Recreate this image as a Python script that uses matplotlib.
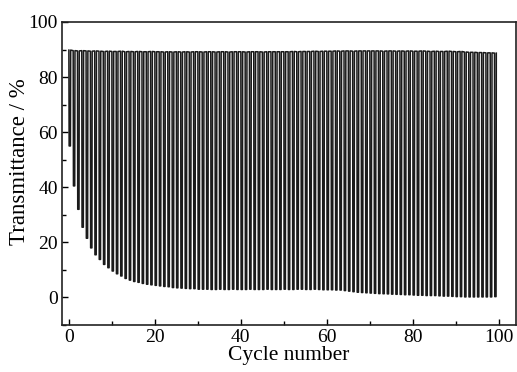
import matplotlib
matplotlib.use("Agg")
import matplotlib.pyplot as plt
from matplotlib.ticker import MultipleLocator
import numpy as np

# per-cycle minimum transmittance (%), cycles 0..99
cycle_min = [55.0, 40.5, 32.0, 25.5, 21.5, 18.0, 15.5, 13.8, 12.0, 10.8,
             9.6, 8.6, 7.8, 6.9, 6.3, 5.8, 5.5, 5.1, 4.8, 4.6,
             4.4, 4.2, 4.0, 3.9, 3.6, 3.5, 3.4, 3.3, 3.2, 3.2,
             3.0, 3.0, 3.0, 2.9, 2.9, 3.0, 2.9, 2.9, 3.0, 2.9,
             2.9, 2.9, 3.0, 2.9, 2.9, 2.9, 3.0, 2.9, 2.9, 2.9,
             3.0, 2.9, 2.9, 3.0, 3.0, 2.9, 2.9, 3.0, 2.9, 2.8,
             2.8, 2.8, 2.7, 2.7, 2.5, 2.3, 2.1, 1.9, 1.8, 1.7,
             1.6, 1.5, 1.4, 1.35, 1.3, 1.2, 1.15, 1.1, 1.0, 1.0,
             0.9, 0.8, 0.8, 0.7, 0.7, 0.7, 0.6, 0.5, 0.5, 0.4,
             0.3, 0.3, 0.2, 0.2, 0.2, 0.2, 0.2, 0.2, 0.2, 0.3]

# per-cycle maximum transmittance (%)
cycle_max = [89.8, 89.6, 89.5, 89.6, 89.5, 89.4, 89.5, 89.4, 89.3, 89.4,
             89.3, 89.3, 89.4, 89.2, 89.3, 89.2, 89.3, 89.2, 89.2, 89.3,
             89.2, 89.2, 89.1, 89.2, 89.1, 89.2, 89.1, 89.2, 89.1, 89.2,
             89.2, 89.1, 89.2, 89.2, 89.1, 89.2, 89.2, 89.1, 89.2, 89.2,
             89.2, 89.1, 89.2, 89.2, 89.2, 89.1, 89.2, 89.2, 89.2, 89.2,
             89.2, 89.2, 89.3, 89.2, 89.3, 89.3, 89.3, 89.4, 89.3, 89.4,
             89.4, 89.4, 89.5, 89.4, 89.5, 89.5, 89.4, 89.5, 89.5, 89.5,
             89.5, 89.5, 89.5, 89.4, 89.5, 89.5, 89.4, 89.5, 89.4, 89.5,
             89.4, 89.4, 89.5, 89.4, 89.3, 89.4, 89.3, 89.3, 89.4, 89.3,
             89.2, 89.3, 89.1, 89.0, 89.0, 88.9, 88.9, 88.8, 88.8, 88.7]

# one cycle: bleach down and recover (fractions of a cycle)
phase = [0.0, 0.06, 0.36, 0.42]

xs, ys = [], []
for i, (lo, hi) in enumerate(zip(cycle_min, cycle_max)):
    xs += [i + p for p in phase]
    ys += [hi, lo, lo, hi]

plt.rcParams['font.family'] = ['Liberation Serif', 'DejaVu Serif']

fig = plt.figure(figsize=(5.17, 3.72), dpi=100)
ax = fig.add_axes([62/517, 47/372, (516-62)/517, (325-22)/372])
ax.plot(xs, ys, color='#1a1a1a', lw=1.1)

ax.set_xlim(-1.6, 104)
ax.set_ylim(-10, 100)
ax.xaxis.set_major_locator(MultipleLocator(20))
ax.xaxis.set_minor_locator(MultipleLocator(10))
ax.yaxis.set_major_locator(MultipleLocator(20))
ax.yaxis.set_minor_locator(MultipleLocator(10))
ax.tick_params(which='both', direction='in', top=False, right=False, labelsize=14, width=1.0, pad=3)
ax.tick_params(which='major', length=4.5)
ax.tick_params(which='minor', length=3)
for s in ax.spines.values():
    s.set_linewidth(1.2)
    s.set_color('#222222')

ax.set_xlabel('Cycle number', fontsize=15.5)
ax.xaxis.set_label_coords(0.5, -0.068)
ax.set_ylabel('Transmittance / %', fontsize=16.5)
ax.yaxis.set_label_coords(-0.07, 0.54)

fig.savefig('out.png', dpi=100)
